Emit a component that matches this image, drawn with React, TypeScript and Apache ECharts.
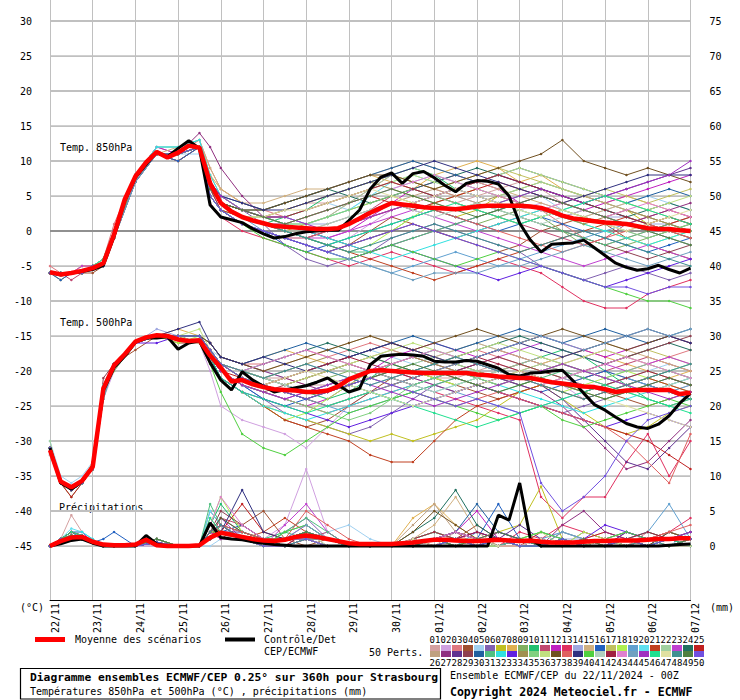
import React, { useEffect, useRef } from "react";
import * as echarts from "echarts";

const DATE_LABELS = ["22/11","23/11","24/11","25/11","26/11","27/11","28/11","29/11","30/11","01/12","02/12","03/12","04/12","05/12","06/12","07/12"];
const LEFT_TICKS = [-45,-40,-35,-30,-25,-20,-15,-10,-5,0,5,10,15,20,25,30];
const RIGHT_TICKS = [0,5,10,15,20,25,30,35,40,45,50,55,60,65,70,75];
const Y_MAX = 33;
const Y_MIN = 33 - 600 / 7;
const PRECIP_OFFSET = 45;

const HOURS_6 = Array.from({ length: 61 }, (_, i) => i * 6);
const MEMBER_HOURS = [0,6,12,18,24,30,36,48,60,72,84,90,96,108,120,132,144,156,168,180,192,204,216,228,240,252,264,276,288,300,312,324,336,348,360];

const MEAN_T850 = [-5.9,-6.2,-6.0,-5.7,-5.3,-4.6,-0.5,4.5,7.8,9.8,11.3,10.5,11.2,12.2,11.9,6.8,4.0,2.8,2.0,1.5,1.1,0.7,0.6,0.5,0.4,0.3,0.3,0.4,1.0,1.8,2.6,3.3,4.0,3.8,3.6,3.4,3.3,3.2,3.1,3.3,3.5,3.6,3.6,3.6,3.6,3.5,3.3,2.8,2.2,1.8,1.6,1.4,1.2,1.1,1.0,0.7,0.4,0.3,0.3,0.1,0.0];
const CTRL_T850 = [-5.9,-6.3,-6.0,-5.8,-5.5,-4.9,-0.8,4.3,7.6,9.5,11.3,10.6,11.8,12.9,11.8,3.7,2.0,1.6,1.2,0.3,-0.4,-1.0,-0.8,-0.4,-0.1,0.0,0.1,0.1,1.5,3.0,6.0,7.7,8.3,6.8,8.2,8.5,7.6,6.5,5.6,6.8,7.2,7.1,6.7,5.0,1.1,-1.3,-3.0,-1.9,-1.8,-1.7,-1.3,-2.4,-3.5,-4.6,-5.2,-5.6,-5.4,-4.9,-5.5,-6.0,-5.3];
const MEAN_T500 = [-31.3,-35.8,-36.6,-35.7,-33.7,-22.5,-19.2,-17.6,-15.8,-15.2,-14.9,-15.0,-15.5,-15.7,-15.6,-17.8,-19.5,-21.5,-21.3,-21.9,-22.3,-22.6,-22.7,-22.8,-23.0,-23.0,-22.8,-22.2,-21.2,-20.6,-20.0,-19.9,-20.0,-20.1,-20.2,-20.3,-20.3,-20.3,-20.3,-20.3,-20.5,-20.6,-20.8,-20.9,-21.0,-21.0,-21.3,-21.6,-21.8,-22.0,-22.2,-22.3,-22.6,-23.0,-22.8,-22.7,-22.7,-22.7,-22.7,-23.3,-23.1];
const CTRL_T500 = [-31.0,-36.0,-36.9,-35.8,-33.6,-22.8,-19.5,-17.9,-15.9,-15.3,-15.3,-15.1,-16.9,-16.0,-15.7,-18.8,-21.3,-22.7,-20.1,-21.3,-22.2,-23.0,-22.7,-22.4,-22.1,-21.6,-21.0,-22.0,-23.0,-22.5,-19.1,-17.9,-17.7,-17.6,-17.7,-17.9,-18.6,-18.7,-18.7,-18.5,-18.6,-19.1,-19.6,-20.5,-20.7,-20.3,-20.2,-20.0,-19.9,-21.4,-23.2,-24.8,-25.6,-26.6,-27.5,-28.0,-28.2,-27.6,-26.4,-24.6,-23.2];
const MEAN_PRECIP = [0,0.7,1.2,1.3,0.6,0.2,0.1,0.1,0.2,0.9,0.1,0,0,0,0.1,1.2,1.9,1.6,1.3,1.0,0.8,0.7,0.9,1.3,1.5,1.3,1.0,0.7,0.4,0.3,0.3,0.3,0.3,0.4,0.5,0.7,0.9,0.9,0.8,0.7,0.7,0.8,0.9,0.8,0.7,0.8,0.6,0.5,0.5,0.5,0.6,0.7,0.7,0.8,0.8,0.8,0.9,1.0,1.0,1.1,1.1];
const CTRL_PRECIP = [0,0.3,0.8,1.0,0.4,0,0,0,0,1.5,0.3,0,0,0,0,3.3,1.2,1.0,0.9,0.6,0.4,0.2,0.1,0,0,0,0,0,0,0,0,0,0,0,0,0,0,0,0,0,0,0,4.4,3.7,9.0,1.0,0,0,0,0,0,0,0,0,0,0,0,0,0.1,0.2,0.3];

const MEMBER_COLORS = ["#d4a0a0","#d0a0e0","#e07880","#a05030","#a0d0f0","#8060b0","#c0c020","#e0b050","#80b060","#20c070","#c04870","#c020c0","#e03060","#a0a8e0","#d0b080","#2060c0","#c0c060","#b0f050","#60a0d0","#60e0f0","#c04020","#a0d0a0","#c040d0","#207060","#c02020","#c0a080","#903080","#603090","#904050","#2060a0","#50c080","#30e0e0","#6020e0","#a09050","#80d080","#c0e080","#705020","#e06060","#303080","#50d040","#b0d0c0","#a02040","#e080d0","#70a0c0","#a030c0","#20e090","#e0e0a0","#409090","#508040","#7050e0"];

const T850_MEMBERS = [
[-6,-6,-6,-6,-5,-5,0,8,11,11,12,8,5,3,2,3,4,4,5,6,7,6,5,4,5,6,7,6,4,3,2,3,2,1,2],
[-6,-7,-6,-6,-5,-4,0,7,11,10,12,6,4,2,1,0,-1,-2,-1,1,3,4,5,4,3,2,3,4,3,2,1,0,-1,0,1],
[-5,-6,-6,-5,-5,-4,1,8,12,11,13,9,6,4,3,2,1,2,4,6,8,7,6,5,6,5,4,3,1,-1,-2,-1,0,-1,-2],
[-6,-6,-6,-6,-6,-5,-1,8,11,10,12,5,3,1,0,-1,-2,-3,-2,0,2,1,0,-1,-2,-3,-2,0,1,2,1,-1,-2,-3,-4],
[-6,-6,-6,-6,-5,-5,0,8,11,11,11,6,4,3,2,2,3,4,3,5,6,7,8,7,6,5,6,5,3,2,3,4,5,4,3],
[-6,-6,-6,-6,-5,-4,0,8,11,11,12,7,5,3,1,-2,-4,-5,-4,-3,-1,0,1,0,-1,-2,-3,-5,-6,-7,-6,-5,-6,-7,-6],
[-6,-7,-6,-6,-5,-5,-1,7,11,10,12,5,3,2,1,0,1,2,3,4,5,4,3,2,3,5,6,7,6,5,4,3,1,2,1],
[-6,-6,-6,-5,-5,-4,0,8,12,12,13,8,6,4,3,4,5,6,7,8,7,6,8,9,10,9,7,8,6,5,4,5,4,3,2],
[-6,-6,-6,-6,-5,-5,0,8,11,11,12,6,4,2,1,1,0,-1,-2,-1,0,2,3,2,1,2,3,2,0,-2,-3,-2,-1,0,1],
[-6,-6,-6,-6,-5,-4,0,8,11,11,12,7,4,2,1,2,3,5,6,7,8,9,8,6,5,4,5,6,5,4,3,2,1,0,-1],
[-6,-6,-7,-6,-5,-5,-1,7,11,10,12,6,3,1,0,-1,-1,0,1,3,5,6,5,4,3,2,1,0,-1,-2,-1,1,2,3,2],
[-6,-6,-6,-6,-5,-4,0,8,12,11,12,7,5,3,2,1,0,-1,0,2,4,6,7,8,7,6,4,3,2,3,4,5,6,7,8],
[-6,-6,-6,-6,-5,-5,-1,8,11,11,12,4,2,0,-1,-2,-3,-4,-5,-4,-3,-4,-5,-6,-5,-4,-5,-6,-8,-10,-11,-11,-9,-8,-7],
[-6,-6,-6,-6,-5,-5,0,8,11,11,12,6,4,3,2,2,1,1,2,3,4,3,4,5,4,3,4,5,4,3,2,2,1,1,0],
[-6,-6,-6,-5,-5,-4,0,8,11,12,13,9,6,4,4,5,6,6,7,8,9,10,9,8,7,6,5,4,3,2,3,4,3,2,1],
[-6,-7,-6,-6,-5,-5,-1,7,11,10,12,5,3,1,0,-2,-3,-2,-1,0,1,2,3,2,1,0,1,2,1,0,-1,-2,-3,-2,-1],
[-6,-6,-6,-6,-5,-5,0,8,11,11,12,6,4,2,2,3,4,5,6,7,8,7,6,7,8,9,8,7,6,5,6,5,4,5,6],
[-6,-6,-6,-6,-5,-4,0,8,11,11,12,7,4,2,1,0,-1,-2,-3,-2,0,2,4,5,6,5,4,3,2,1,0,-1,-2,-1,0],
[-6,-6,-6,-6,-5,-5,0,8,11,11,12,5,3,2,0,-1,-2,-3,-4,-5,-6,-5,-4,-3,-4,-5,-4,-3,-2,-1,0,1,0,-1,-2],
[-6,-6,-6,-6,-5,-4,0,8,12,12,13,7,5,3,2,2,1,2,3,5,7,8,7,6,5,4,3,2,3,4,3,2,1,0,-1],
[-6,-6,-6,-6,-5,-5,-1,8,11,11,12,5,3,2,1,0,-1,-2,-3,-4,-5,-6,-7,-6,-5,-4,-3,-2,-1,0,1,2,1,0,-1],
[-6,-6,-6,-6,-5,-4,0,8,11,11,12,7,5,3,2,1,1,2,4,6,8,9,8,7,6,5,6,7,6,5,4,3,2,1,2],
[-6,-6,-6,-5,-5,-5,0,8,11,11,12,6,4,2,1,0,-1,-1,0,1,2,3,2,1,0,-1,-2,-3,-4,-5,-4,-3,-2,-3,-4],
[-6,-6,-6,-6,-5,-5,0,8,11,11,12,6,4,3,3,4,5,6,5,4,5,6,7,8,9,8,7,6,5,4,3,2,3,4,3],
[-6,-6,-6,-6,-5,-4,0,8,11,11,12,6,4,2,1,1,2,3,4,5,4,3,4,5,6,7,6,5,4,3,2,1,0,1,2],
[-6,-6,-6,-6,-5,-5,0,8,11,11,12,6,4,2,1,0,0,1,2,3,4,5,6,5,4,3,2,3,4,5,4,3,2,1,0],
[-6,-6,-6,-6,-5,-5,0,8,11,11,14,12,9,5,2,1,0,-1,-2,-3,-2,-1,0,1,2,3,4,5,4,3,2,1,2,3,4],
[-6,-6,-6,-6,-5,-5,0,8,11,11,12,6,4,2,1,0,-1,0,1,2,3,4,5,6,7,8,7,6,5,4,5,6,7,8,9],
[-6,-6,-6,-6,-5,-5,0,8,11,11,12,6,3,1,0,-1,-2,-3,-2,-1,0,1,0,-1,0,1,2,1,0,-1,-2,-3,-4,-3,-2],
[-6,-6,-6,-6,-5,-5,0,8,11,11,12,7,5,4,3,4,5,6,7,8,9,10,9,8,7,8,9,8,7,6,5,4,5,6,5],
[-6,-6,-6,-6,-5,-5,0,8,11,11,12,6,4,2,1,0,-1,-2,-3,-3,-2,-1,0,1,2,3,2,1,0,-1,-2,-1,0,1,0],
[-6,-6,-6,-6,-5,-4,0,8,12,12,13,8,5,3,2,1,0,-1,-2,-3,-4,-3,-2,-1,0,1,2,3,2,1,0,-1,-2,-1,0],
[-6,-6,-6,-6,-5,-5,0,8,11,11,12,5,3,1,0,-1,-2,-3,-4,-3,-2,-3,-4,-5,-6,-7,-6,-5,-6,-7,-8,-7,-6,-5,-4],
[-6,-6,-6,-6,-5,-5,0,8,11,11,12,6,4,3,2,3,4,5,6,7,6,5,4,3,4,5,4,3,2,1,2,3,2,1,0],
[-6,-6,-6,-6,-5,-5,0,8,11,11,12,6,4,2,2,1,1,2,3,4,5,6,5,4,3,2,1,2,3,2,1,0,-1,0,1],
[-6,-6,-6,-6,-5,-4,0,8,11,11,12,7,5,3,2,2,3,4,5,6,7,8,7,6,7,8,9,8,7,6,5,4,3,4,5],
[-6,-6,-6,-6,-5,-5,0,8,11,11,12,6,4,3,3,4,5,6,7,8,8,7,6,7,8,9,10,11,13,10,9,8,9,8,7],
[-6,-6,-6,-6,-5,-5,0,8,11,11,12,6,4,2,1,0,-1,0,1,2,3,4,3,2,1,0,-1,-2,-3,-2,-1,0,1,0,-1],
[-6,-6,-6,-6,-5,-5,0,8,11,11,12,7,5,4,3,3,4,5,6,7,8,9,10,9,8,7,6,5,4,5,6,7,8,8,8],
[-6,-6,-6,-6,-5,-5,-1,8,11,11,12,5,3,1,-1,-2,-3,-4,-4,-3,-2,-3,-4,-5,-4,-3,-4,-5,-6,-7,-8,-9,-10,-10,-11],
[-6,-6,-6,-6,-5,-4,0,8,11,11,12,6,4,2,1,0,0,1,2,3,4,3,2,3,4,3,2,1,2,3,2,1,0,-1,-2],
[-6,-6,-6,-6,-5,-5,0,8,11,11,12,6,4,3,2,2,3,4,5,6,7,6,5,6,7,8,7,6,5,4,3,2,1,2,1],
[-6,-6,-6,-6,-5,-5,0,8,11,11,12,6,4,2,1,1,2,3,4,5,6,7,8,7,6,5,4,3,4,3,2,3,4,3,2],
[-6,-6,-6,-6,-5,-5,-1,7,11,11,12,5,3,1,0,-1,-2,-3,-4,-5,-6,-7,-6,-6,-6,-5,-5,-4,-3,-2,-3,-4,-5,-4,-3],
[-6,-6,-6,-6,-5,-5,0,8,11,11,12,7,5,3,2,2,1,0,1,2,3,4,5,6,5,4,5,6,5,4,5,6,7,8,10],
[-6,-6,-6,-6,-5,-4,0,8,11,11,12,6,4,2,1,0,-1,-2,-1,0,1,2,3,4,3,2,1,2,3,4,5,4,3,2,1],
[-6,-6,-6,-6,-5,-5,0,8,11,11,12,6,4,2,2,3,3,4,5,6,5,4,5,6,5,4,3,2,3,2,1,0,1,2,3],
[-6,-6,-6,-6,-5,-5,0,8,11,11,12,6,4,2,1,0,-1,-2,-3,-2,-1,0,1,0,-1,-2,-3,-2,-1,0,-1,-2,-3,-4,-5],
[-6,-6,-6,-6,-5,-5,0,8,11,11,12,6,4,3,2,1,2,3,4,5,6,5,4,3,2,3,4,5,4,3,2,1,0,-1,-2],
[-6,-6,-6,-6,-5,-5,0,8,11,11,12,5,3,1,0,-1,-2,-3,-2,-1,0,1,0,-1,-2,-3,-4,-5,-6,-7,-8,-8,-9,-8,-8]
];

const T500_MEMBERS = [
[-31,-36,-37,-36,-34,-23,-19,-16,-15,-15,-15,-17,-19,-20,-21,-21,-22,-22,-21,-20,-19,-20,-21,-21,-20,-19,-20,-21,-22,-21,-20,-21,-22,-23,-22],
[-31,-36,-37,-36,-34,-24,-20,-16,-15,-15,-16,-20,-25,-27,-28,-29,-31,-28,-25,-23,-22,-21,-22,-23,-22,-21,-20,-21,-22,-24,-23,-22,-21,-22,-23],
[-31,-36,-37,-36,-34,-22,-19,-16,-15,-15,-15,-16,-18,-19,-19,-18,-17,-18,-17,-16,-17,-18,-19,-18,-17,-18,-19,-20,-19,-18,-17,-18,-19,-18,-17],
[-31,-36,-37,-36,-34,-23,-19,-17,-15,-16,-16,-19,-21,-23,-25,-27,-28,-27,-25,-23,-21,-20,-21,-22,-23,-24,-23,-22,-21,-22,-23,-24,-25,-24,-23],
[-30,-35,-36,-35,-33,-22,-19,-16,-15,-15,-15,-17,-18,-19,-20,-21,-20,-19,-18,-17,-18,-19,-18,-17,-16,-17,-18,-19,-20,-21,-22,-21,-20,-19,-20],
[-32,-36,-37,-36,-34,-23,-19,-16,-15,-15,-15,-18,-20,-22,-24,-26,-27,-28,-29,-28,-26,-24,-22,-21,-22,-23,-24,-25,-26,-25,-24,-23,-22,-21,-22],
[-31,-36,-37,-36,-34,-23,-19,-16,-15,-15,-16,-18,-21,-23,-25,-26,-27,-28,-29,-30,-29,-30,-29,-28,-27,-25,-23,-22,-24,-26,-28,-29,-28,-26,-25],
[-31,-36,-37,-36,-33,-22,-19,-16,-15,-14,-15,-16,-18,-19,-18,-17,-18,-19,-18,-17,-16,-17,-18,-19,-20,-21,-20,-19,-18,-17,-18,-19,-20,-21,-20],
[-31,-36,-38,-36,-34,-23,-20,-16,-15,-15,-15,-17,-19,-21,-22,-23,-22,-21,-20,-21,-22,-21,-20,-19,-20,-21,-22,-21,-22,-23,-24,-23,-22,-23,-24],
[-31,-36,-37,-36,-34,-24,-19,-16,-15,-15,-15,-17,-19,-20,-21,-22,-23,-24,-23,-21,-19,-18,-17,-18,-19,-20,-19,-18,-17,-18,-20,-22,-24,-25,-24],
[-31,-36,-37,-36,-34,-23,-19,-16,-15,-15,-15,-17,-19,-21,-22,-21,-20,-19,-18,-17,-16,-17,-18,-19,-18,-17,-18,-19,-20,-21,-20,-19,-18,-19,-20],
[-31,-36,-37,-36,-34,-23,-19,-16,-15,-15,-15,-18,-20,-22,-23,-24,-25,-24,-22,-20,-18,-17,-16,-17,-18,-17,-16,-15,-16,-17,-18,-17,-16,-15,-16],
[-31,-36,-37,-36,-34,-23,-19,-16,-15,-15,-15,-17,-20,-22,-23,-24,-25,-26,-25,-24,-23,-22,-23,-24,-25,-26,-27,-38,-41,-38,-38,-33,-29,-35,-30],
[-31,-36,-37,-36,-34,-23,-19,-16,-14,-15,-15,-17,-19,-20,-21,-20,-19,-20,-21,-22,-21,-20,-19,-20,-21,-22,-21,-20,-21,-22,-23,-22,-21,-20,-21],
[-31,-36,-37,-36,-34,-23,-19,-16,-15,-15,-15,-16,-18,-19,-20,-19,-18,-17,-16,-15,-16,-17,-18,-17,-16,-17,-18,-19,-18,-17,-16,-17,-18,-19,-20],
[-31,-36,-37,-36,-34,-23,-19,-16,-15,-15,-15,-18,-20,-22,-24,-25,-24,-23,-22,-23,-24,-25,-24,-23,-22,-21,-22,-23,-22,-21,-20,-21,-22,-23,-24],
[-31,-36,-37,-36,-34,-23,-19,-16,-15,-15,-15,-17,-19,-20,-21,-22,-21,-20,-19,-18,-19,-20,-21,-22,-21,-20,-19,-20,-21,-20,-19,-18,-17,-18,-19],
[-31,-36,-37,-36,-34,-23,-19,-16,-15,-16,-15,-18,-21,-23,-25,-27,-26,-24,-22,-20,-19,-20,-21,-22,-21,-20,-21,-22,-23,-22,-21,-20,-21,-22,-23],
[-31,-36,-37,-36,-34,-23,-19,-16,-15,-15,-15,-17,-19,-21,-22,-23,-24,-25,-26,-25,-24,-23,-22,-23,-24,-25,-26,-25,-24,-23,-22,-21,-22,-23,-22],
[-31,-36,-37,-36,-34,-22,-19,-16,-15,-15,-15,-17,-19,-20,-21,-22,-23,-22,-21,-20,-21,-22,-23,-22,-21,-20,-19,-18,-19,-20,-21,-22,-21,-20,-19],
[-31,-36,-37,-36,-34,-23,-19,-16,-15,-15,-16,-18,-21,-23,-25,-27,-28,-29,-30,-32,-33,-33,-30,-27,-25,-24,-23,-22,-23,-24,-23,-22,-21,-22,-23],
[-30,-36,-37,-36,-34,-23,-19,-16,-15,-15,-15,-17,-19,-21,-22,-21,-20,-19,-20,-21,-20,-19,-18,-19,-20,-21,-20,-19,-20,-21,-22,-21,-20,-21,-22],
[-31,-36,-37,-36,-34,-23,-19,-16,-15,-15,-15,-18,-20,-22,-23,-24,-23,-22,-21,-20,-19,-18,-19,-20,-19,-18,-17,-16,-17,-18,-19,-20,-19,-18,-19],
[-31,-36,-37,-36,-34,-23,-19,-16,-15,-15,-15,-17,-19,-20,-19,-18,-17,-16,-17,-18,-19,-20,-19,-18,-17,-16,-15,-16,-17,-18,-19,-18,-17,-16,-17],
[-31,-36,-38,-36,-34,-23,-19,-16,-15,-15,-15,-18,-20,-21,-22,-23,-24,-25,-24,-23,-22,-21,-20,-21,-22,-23,-24,-25,-26,-27,-28,-29,-30,-32,-34],
[-31,-36,-37,-36,-34,-23,-19,-16,-15,-15,-15,-17,-19,-20,-21,-22,-21,-20,-19,-18,-17,-18,-19,-20,-21,-20,-19,-18,-19,-20,-21,-22,-23,-22,-21],
[-31,-36,-37,-36,-34,-23,-19,-16,-15,-15,-15,-16,-18,-19,-20,-21,-22,-23,-22,-21,-20,-21,-22,-23,-22,-21,-22,-23,-25,-28,-31,-34,-33,-30,-27],
[-31,-36,-37,-36,-34,-23,-19,-16,-15,-15,-15,-17,-19,-20,-21,-22,-23,-22,-21,-20,-21,-22,-21,-20,-19,-20,-21,-22,-24,-27,-30,-33,-34,-31,-28],
[-31,-36,-37,-36,-34,-21,-19,-16,-15,-15,-15,-18,-20,-22,-23,-22,-21,-20,-19,-20,-21,-22,-21,-20,-19,-18,-19,-20,-21,-20,-19,-18,-17,-16,-15],
[-31,-36,-37,-36,-34,-23,-19,-16,-15,-15,-15,-16,-18,-19,-18,-17,-16,-17,-18,-17,-16,-15,-16,-17,-16,-15,-14,-15,-16,-15,-14,-15,-16,-15,-14],
[-31,-36,-37,-36,-34,-23,-19,-16,-15,-15,-15,-17,-19,-21,-22,-23,-22,-21,-22,-23,-24,-23,-22,-21,-22,-23,-22,-21,-20,-21,-22,-23,-24,-25,-24],
[-31,-36,-37,-36,-34,-22,-19,-16,-15,-15,-15,-18,-21,-23,-25,-26,-27,-26,-25,-24,-23,-22,-21,-20,-21,-22,-23,-24,-25,-26,-25,-24,-23,-22,-21],
[-31,-36,-37,-36,-34,-23,-19,-16,-16,-15,-16,-18,-21,-23,-24,-25,-26,-27,-28,-27,-26,-25,-24,-23,-22,-23,-24,-25,-26,-27,-28,-27,-26,-27,-28],
[-31,-36,-37,-36,-34,-23,-19,-16,-15,-15,-15,-17,-19,-20,-21,-20,-19,-18,-19,-20,-19,-18,-19,-20,-21,-22,-21,-20,-19,-20,-21,-22,-21,-20,-21],
[-31,-36,-37,-36,-34,-23,-19,-16,-15,-15,-15,-17,-20,-22,-23,-24,-25,-26,-27,-26,-24,-22,-21,-20,-21,-22,-21,-20,-19,-20,-21,-20,-19,-20,-21],
[-31,-36,-37,-36,-34,-23,-19,-16,-15,-15,-14,-17,-19,-20,-21,-22,-21,-20,-19,-18,-17,-16,-17,-18,-17,-16,-17,-18,-19,-18,-17,-18,-19,-20,-19],
[-31,-36,-37,-36,-34,-23,-19,-16,-15,-15,-15,-16,-18,-19,-20,-19,-18,-17,-16,-15,-16,-17,-16,-15,-14,-15,-16,-15,-14,-15,-16,-17,-16,-15,-16],
[-31,-36,-37,-36,-34,-23,-19,-16,-15,-15,-15,-17,-19,-21,-22,-23,-24,-23,-22,-21,-22,-23,-24,-25,-24,-23,-24,-25,-26,-27,-28,-30,-33,-36,-29],
[-31,-36,-37,-36,-34,-23,-19,-16,-15,-14,-13,-16,-18,-19,-18,-19,-20,-19,-18,-17,-16,-17,-18,-19,-18,-17,-16,-17,-18,-17,-16,-15,-14,-15,-16],
[-31,-36,-37,-36,-34,-23,-19,-16,-15,-15,-16,-19,-23,-29,-31,-32,-30,-28,-26,-25,-24,-23,-24,-25,-26,-27,-26,-25,-27,-28,-27,-26,-25,-24,-25],
[-32,-36,-37,-36,-34,-23,-19,-16,-15,-15,-15,-17,-19,-20,-21,-22,-23,-22,-21,-20,-21,-22,-23,-22,-21,-20,-21,-22,-21,-20,-21,-22,-23,-22,-21],
[-31,-36,-37,-36,-34,-23,-19,-16,-15,-15,-15,-17,-19,-21,-22,-21,-20,-19,-18,-19,-20,-21,-20,-19,-18,-19,-20,-21,-22,-23,-22,-21,-20,-21,-22],
[-31,-36,-37,-36,-34,-23,-19,-16,-15,-15,-15,-17,-19,-20,-19,-18,-17,-18,-19,-20,-19,-18,-17,-18,-19,-20,-21,-22,-21,-20,-19,-18,-19,-20,-21],
[-31,-36,-37,-36,-34,-24,-19,-16,-15,-15,-15,-17,-19,-21,-22,-23,-24,-25,-24,-23,-22,-21,-20,-19,-18,-17,-16,-15,-16,-17,-16,-15,-14,-15,-14],
[-31,-36,-37,-36,-34,-23,-19,-16,-15,-15,-15,-18,-20,-22,-23,-24,-23,-22,-21,-22,-23,-24,-25,-24,-23,-22,-21,-20,-19,-20,-21,-22,-23,-24,-23],
[-31,-36,-37,-36,-34,-23,-19,-16,-15,-15,-15,-18,-21,-23,-24,-25,-26,-25,-24,-23,-24,-25,-26,-27,-28,-27,-26,-25,-24,-23,-22,-23,-24,-25,-26],
[-31,-36,-37,-36,-34,-23,-19,-16,-15,-15,-16,-17,-19,-21,-22,-21,-20,-21,-22,-23,-24,-25,-24,-23,-22,-21,-20,-21,-22,-23,-24,-25,-26,-27,-28],
[-31,-36,-37,-36,-34,-23,-19,-16,-15,-15,-15,-17,-19,-20,-21,-20,-19,-20,-21,-22,-21,-20,-19,-18,-19,-20,-21,-22,-23,-24,-23,-22,-21,-20,-19],
[-31,-36,-37,-36,-34,-23,-19,-16,-15,-15,-15,-17,-19,-21,-22,-23,-24,-23,-22,-21,-20,-19,-20,-21,-22,-23,-22,-21,-22,-23,-24,-23,-22,-21,-22],
[-31,-36,-37,-36,-34,-23,-19,-16,-15,-15,-15,-17,-19,-21,-22,-23,-24,-23,-22,-21,-22,-23,-24,-25,-24,-25,-26,-36,-40,-38,-35,-30,-27,-26,-25]
];

const PRECIP_MEMBERS = [
[0,1,4.4,2,0.5,0,0,0,1,0,0,1,2,1,0,1,2,1,0,0,0,1,0,2,1,0,1,0,0,1,0,2,1,0,1],
[0,1,2,1.5,1,0,0,0,0,0,0,2,3,2,1,3,11,2,0,0,0,0,1,0,1,2,1,0,0,1,2,1,0,1,0],
[0,1,1.5,1.5,0.5,0,0,0,1,0,0,1,4,2,1,0,1,0,0,0,0,0,1,2,0,1,0,1,0,0,1,0,2,1,0],
[0,0.5,1,1,0.5,0,0,0,0.5,0,0,2,1,3,5,1,0,1,0,0,0,0,0,1,3,1,0,0,2,1,0,0,1,2,1],
[0,1,1,1.5,0.5,0,0,0,1,0,0,0,1,2,1,0,1,2,3,1,0,0,1,2,1,0,0,1,2,1,0,0,1,0,2],
[0,0.5,1,1,0.5,0,0,0,0.5,0,0,5,3,1,0,2,4,1,0,0,0,0,1,0,1,0,0,1,0,2,1,0,0,1,0],
[0,1,1.5,1,0.5,0,0,0,1,0,0,1,2,1,1,0,1,1,0,0,0,1,0,0,1,2,3,8.5,1,0,1,0,1,0,1],
[0,1,2,1.5,0.5,0,0,0,1,0,0,2,3,1,0,1,2,0,0,0,0,4,6,3,1,0,0,1,0,0,1,0,0,2,1],
[0,0.5,1,1,0.5,0,0,0,0.5,0,0,1,2,1,0,0,1,1,0,0,0,0,1,1,0,0,1,0,0,1,0,1,0,0,1],
[0,1,1.5,1.5,0.5,0,0,0,1,0,0,3,6,2,1,2,1,0,0,0,0,1,2,1,0,1,0,0,1,0,0,1,2,1,0],
[0,1,1,1,0.5,0,0,0,0.5,0,0,1,4,3,1,0,1,2,0,0,0,0,0,1,2,1,0,1,0,0,0,1,0,1,0],
[0,1,2,2,0.5,0,0,0,1,0,0,2,1,1,0,1,3,1,0,0,0,0,1,2,5,1,0,0,1,0,1,2,1,0,1],
[0,0.5,1,1,0.5,0,0,0,0.5,0,0,1,2,1,1,0,2,1,0,0,0,1,0,0,1,0,2,1,3,2,1,0,1,2,4],
[0,1,1.5,1,0.5,0,0,0,1,0,0,1,2,1,0,1,1,0,0,0,0,0,1,0,1,1,0,0,1,1,0,1,0,1,1],
[0,1,1.5,1.5,0.5,0,0,0,1,0,0,4,2,1,0,1,2,1,0,0,0,1,3,7,2,0,0,1,0,1,0,0,1,0,0],
[0,1,1,1,0.5,1,2,0,0.5,0,0,1,2,3,1,0,1,0,0,0,0,0,1,2,1,6,1,0,0,1,0,1,0,2,1],
[0,1,1.5,1,0.5,0,0,0,1,0,0,2,3,1,0,1,2,1,0,0,0,0,0,1,1,0,1,2,1,0,1,0,1,0,1],
[0,1,2,1.5,0.5,0,0,0,1,0,0,3,7,2,1,0,1,0,0,0,0,1,2,1,0,0,1,0,0,2,1,0,1,1,0],
[0,0.5,1,1,0.5,0,0,0,0.5,0,0,1,2,1,0,2,3,1,0,0,0,0,1,0,2,1,0,1,2,1,0,1,2,6,1],
[0,1,2.5,2,1,0,0,0,1,0,0,5,3,1,0,1,2,1,0,0,0,0,1,2,1,0,0,1,0,1,0,1,0,1,0],
[0,1,1.5,1.5,0.5,0,0,0,1,0,0,2,2,1,2,4,2,1,0,0,0,0,0,1,0,1,0,2,1,0,1,0,0,1,2],
[0,1,1,1,0.5,0,0,0,0.5,0,0,1,2,1,0,1,1,0,0,0,0,1,0,1,0,0,1,0,1,0,0,1,1,0,1],
[0,1,2,1.5,0.5,0,0,0,1,0,0,2,4,1,0,3,6,2,0,0,0,0,1,0,1,2,1,0,1,0,0,2,1,0,1],
[0,0.5,1,1,0.5,0,0,0,0.5,0,0,1,3,2,1,0,1,0,0,0,0,2,4,8,3,1,0,0,1,0,0,1,0,1,0],
[0,1,1.5,1,0.5,0,0,0,1,0,0,3,2,6,2,1,1,0,0,0,0,0,1,2,1,0,1,0,0,1,2,1,0,1,1],
[0,1,2,1.5,0.5,0,0,0,1,0,0,1,2,1,0,1,2,1,0,0,0,3,6,2,1,0,1,0,0,0,1,0,1,2,1],
[0,1,1,1,0.5,0,0,0,0.5,0,0,2,3,1,0,1,2,1,0,0,0,0,0,1,0,2,1,0,3,5,2,1,0,0,1],
[0,1,1.5,1,0.5,0,0,0,1,0,0,1,2,2,1,0,1,0,0,0,0,1,2,1,0,1,3,1,0,1,0,2,1,0,1],
[0,0.5,1,1.5,0.5,0,0,0,0.5,0,0,2,5,3,1,1,2,1,0,0,0,0,1,0,1,0,0,1,0,0,1,0,1,0,0],
[0,1,2,1,0.5,0,0,0,1,0,0,1,2,1,0,1,2,1,0,0,0,0,1,2,6,2,1,0,0,1,0,1,0,1,2],
[0,1,1.5,1.5,0.5,0,0,0,1,0,0,6,3,1,0,2,4,2,0,0,0,0,0,1,0,1,0,1,0,0,1,2,1,0,1],
[0,1,2,2,1,0,0,0,1,0,0,2,4,2,1,1,2,1,0,0,0,1,2,1,0,0,1,2,1,0,0,1,0,1,0],
[0,0.5,1,1,0.5,0,0,0,0.5,0,0,1,2,1,0,0,1,0,0,0,0,0,1,1,2,1,0,1,0,1,3,2,1,1,0],
[0,1,1.5,1,0.5,0,0,0,1,0,0,2,3,1,0,1,2,1,0,0,0,1,0,1,0,0,1,0,1,0,1,0,1,0,1],
[0,1,2,1.5,0.5,0,0,0,1,0,0,1,2,1,1,0,1,0,0,0,0,0,1,0,1,0,1,0,0,1,0,1,0,0,1],
[0,1,1.5,1,0.5,0,0,0,1,0,0,2,3,1,0,1,1,0,0,0,0,1,2,1,0,0,1,2,0,1,0,0,1,0,1],
[0,1,1.5,1.5,0.5,0,0,0,1,0,0,2,4,2,1,1,2,1,0,0,0,2,5,3,1,0,1,0,0,1,0,1,0,2,1],
[0,1,2,1.5,0.5,0,0,0,1,0,0,1,3,2,1,1,5,3,1,0,0,0,1,2,1,0,0,1,0,0,1,0,1,2,3],
[0,1,1,1,0.5,0,0,0,0.5,0,0,1,2,8,2,1,1,0,0,0,0,0,1,2,1,0,1,0,1,0,0,1,0,1,0],
[0,1,1.5,1.5,0.5,0,0,0,1,0,0,2,2,1,0,2,3,1,0,0,0,0,1,0,1,0,1,2,1,0,1,2,1,0,1],
[0,1,1.5,1,0.5,0,0,0,1,0,0,1,2,1,0,1,2,0,0,0,0,0,0,1,0,1,0,0,1,0,0,1,0,1,0],
[0,1,2,1.5,0.5,0,0,0,1,0,0,2,3,1,1,0,2,1,0,0,0,1,2,1,2,1,0,0,1,0,0,1,2,1,0],
[0,1,1.5,1.5,0.5,0,0,0,1,0,0,3,7,3,1,0,1,1,0,0,0,0,1,2,1,0,0,1,0,1,0,0,1,0,1],
[0,1,1,1,0.5,0,0,0,0.5,0,0,1,2,1,0,1,3,1,0,0,0,0,1,0,1,0,1,0,2,1,0,0,1,0,0],
[0,1,1.5,1,0.5,0,0,0,1,0,0,2,3,1,0,1,2,1,0,0,0,1,0,1,0,1,0,1,0,0,1,0,1,1,2],
[0,1,2,1.5,0.5,0,0,0,1,0,0,4,2,1,0,1,2,1,0,0,0,0,0,1,0,1,0,0,1,0,1,0,0,1,0],
[0,1,1.5,1,0.5,0,0,0,1,0,0,1,2,1,0,1,1,0,0,0,0,1,0,0,1,0,0,1,0,0,1,0,1,0,0],
[0,1,1.5,1.5,0.5,0,0,0,1,0,0,2,3,1,1,0,1,1,0,0,0,0,1,1,0,1,0,0,1,0,0,0,1,0,1],
[0,1,1.5,1,0.5,0,0,0,1,0,0,1,2,1,0,1,2,1,0,0,0,0,1,0,1,2,1,0,0,1,0,1,0,0,1],
[0,1,1,1,0.5,0,0,0,0.5,0,0,1,2,1,0,1,1,0,0,0,0,0,0,1,0,1,0,0,1,0,0,1,0,1,1]
];

const MONO = '"DejaVu Sans Mono", "Liberation Mono", monospace';

function buildOption() {
  const series: any[] = [];
  series.push({
    type: "custom",
    yAxisIndex: 0,
    silent: true,
    clip: false,
    z: 1,
    data: LEFT_TICKS.map((v) => [0, v]),
    encode: { x: 0, y: 1 },
    renderItem: (params: any, api: any) => {
      const v = api.value(1);
      const p1 = api.coord([0, v]);
      const p2 = api.coord([360, v]);
      const major = v % 10 === 0;
      return {
        type: "line",
        shape: { x1: p1[0], y1: p1[1], x2: p2[0], y2: p2[1] },
        style: { stroke: v === 0 ? "#909090" : "#c0c0c0", lineWidth: major ? 2 : 1, fill: "none" },
      };
    },
  });
  LEFT_TICKS.forEach((v) => {
    series.push({
      type: "line",
      yAxisIndex: 0,
      data: [[0, v], [360, v]],
      symbol: "none",
      lineStyle: { color: v === 0 ? "#909090" : "#c0c0c0", width: v % 10 === 0 ? 2 : 1 },
      z: 1,
    });
  });
  const memberSeries = (values: number[][], axis: number) => {
    values.forEach((arr, k) => {
      const c = MEMBER_COLORS[k];
      series.push({
        type: "line",
        yAxisIndex: axis,
        data: MEMBER_HOURS.map((h, i) => [h, arr[i]]),
        symbol: "circle",
        symbolSize: 2.5,
        showSymbol: true,
        lineStyle: { width: 1, color: c },
        itemStyle: { color: c },
        silent: true,
        z: 2,
      });
    });
  };
  memberSeries(T850_MEMBERS, 0);
  memberSeries(T500_MEMBERS, 0);
  memberSeries(PRECIP_MEMBERS, 1);

  const thick = (vals: number[], axis: number, color: string, width: number, z: number) => ({
    type: "line",
    yAxisIndex: axis,
    data: HOURS_6.map((h, i) => [h, vals[i]]),
    symbol: "none",
    lineStyle: { width, color },
    itemStyle: { color },
    silent: true,
    z,
  });
  series.push(thick(CTRL_T850, 0, "#000000", 3, 3));
  series.push(thick(CTRL_T500, 0, "#000000", 3, 3));
  series.push(thick(CTRL_PRECIP, 1, "#000000", 3, 3));
  series.push(thick(MEAN_T850, 0, "#ff0000", 4.5, 4));
  series.push(thick(MEAN_T500, 0, "#ff0000", 4.5, 4));
  series.push(thick(MEAN_PRECIP, 1, "#ff0000", 4.5, 4));

  const txt = (text: string, x: number, y: number, font: string, align = "left") => ({
    type: "text",
    x,
    y,
    silent: true,
    style: { text, font, fill: "#000", align, textAlign: align, verticalAlign: "middle", textVerticalAlign: "middle" },
  });

  const graphics: any[] = [
    txt("Temp. 850hPa", 60, 147, `10px ${MONO}`),
    txt("Temp. 500hPa", 60, 322, `10px ${MONO}`),
    txt("Précipitations", 59, 507, `10px ${MONO}`),
    txt("(°C)", 20, 607, `10px ${MONO}`),
    txt("(mm)", 710, 607, `10px ${MONO}`),
    { type: "line", silent: true, shape: { x1: 35, y1: 639.5, x2: 65, y2: 639.5 }, style: { stroke: "#ff0000", lineWidth: 5 } },
    txt("Moyenne des scénarios", 75, 639.5, `10px ${MONO}`),
    { type: "line", silent: true, shape: { x1: 225, y1: 639.5, x2: 255, y2: 639.5 }, style: { stroke: "#000", lineWidth: 4 } },
    txt("Contrôle/Det", 264, 639.5, `10px ${MONO}`),
    txt("CEP/ECMWF", 264, 651, `10px ${MONO}`),
    txt("50 Perts.", 369, 652.5, `10px ${MONO}`),
    { type: "rect", silent: true, shape: { x: 20.5, y: 668.5, width: 420, height: 30.5 }, style: { fill: "none", stroke: "#000", lineWidth: 1.2 } },
    txt("Diagramme ensembles ECMWF/CEP 0.25° sur 360h pour Strasbourg", 30, 677, `bold 11.3px ${MONO}`),
    txt("Températures 850hPa et 500hPa (°C) , précipitations (mm)", 30, 691.5, `10px ${MONO}`),
    txt("Ensemble ECMWF/CEP du 22/11/2024 - 00Z", 450, 675.5, `10px ${MONO}`),
    txt("Copyright 2024 Meteociel.fr - ECMWF", 450, 692, `bold 11.5px ${MONO}`),
  ];
  MEMBER_COLORS.forEach((c, k) => {
    const col = k % 25;
    const row = Math.floor(k / 25);
    const x = 430 + col * 11;
    graphics.push({ type: "rect", silent: true, shape: { x, y: 645 + row * 6, width: 10, height: 6 }, style: { fill: c } });
    const label = String(k + 1).padStart(2, "0");
    graphics.push(txt(label, x + 5, row === 0 ? 640 : 663, `9px ${MONO}`, "center"));
  });

  return {
    animation: false,
    grid: { left: 50, top: 0, width: 640.5, height: 600 },
    xAxis: {
      type: "value",
      min: 0,
      max: 360,
      interval: 24,
      axisLine: { show: true, onZero: false, lineStyle: { color: "#000", width: 1 } },
      axisTick: { show: false },
      splitLine: { show: true, lineStyle: { color: "#c0c0c0", width: 1 } },
      axisLabel: {
        show: true,
        rotate: 90,
        margin: 3,
        verticalAlign: "top",
        showMinLabel: true,
        showMaxLabel: true,
        fontFamily: MONO,
        fontSize: 10,
        color: "#000",
        formatter: (v: number) => DATE_LABELS[Math.round(v / 24)] || "",
      },
    },
    yAxis: [
      {
        type: "value",
        min: Y_MIN,
        max: Y_MAX,
        position: "left",
        axisLine: { show: false },
        axisTick: { show: false, customValues: LEFT_TICKS },
        splitLine: { show: true, lineStyle: { color: "#c0c0c0", width: 1 } },
        axisLabel: { customValues: LEFT_TICKS, margin: 18, fontFamily: MONO, fontSize: 10, color: "#000" },
      },
      {
        type: "value",
        min: Y_MIN + PRECIP_OFFSET,
        max: Y_MAX + PRECIP_OFFSET,
        position: "right",
        axisLine: { show: false },
        axisTick: { show: false, customValues: RIGHT_TICKS },
        splitLine: { show: false },
        axisLabel: { customValues: RIGHT_TICKS, margin: 19, fontFamily: MONO, fontSize: 10, color: "#000" },
      },
    ],
    graphic: graphics,
    series,
  };
}

export default function App() {
  const ref = useRef<HTMLDivElement>(null);
  useEffect(() => {
    if (!ref.current) return;
    const chart = echarts.init(ref.current, null, { renderer: "svg" });
    chart.setOption(buildOption() as any);
    return () => chart.dispose();
  }, []);
  return <div ref={ref} style={{ position: "fixed", left: 0, top: 0, width: 740, height: 700, background: "#fff" }} />;
}
